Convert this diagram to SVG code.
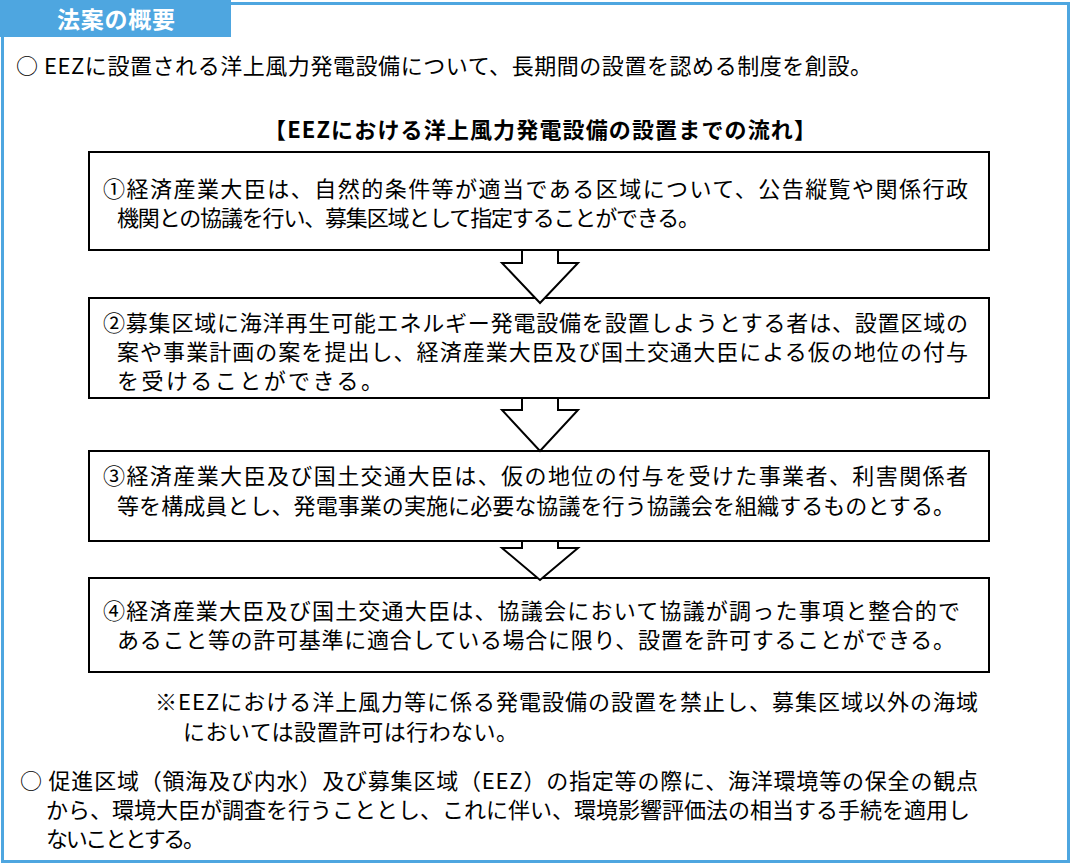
<svg xmlns="http://www.w3.org/2000/svg" width="1071" height="865" viewBox="0 0 1071 865">
<style>
text{font-family:"Noto Sans CJK JP","Noto Sans",sans-serif;font-size:22px;fill:#000}
.box{fill:#fff;stroke:#000;stroke-width:2}
.arr{fill:#fff;stroke:#000;stroke-width:2}
</style>
<rect width="1071" height="865" fill="#fff"/>
<rect x="2.5" y="3.5" width="1066" height="858" fill="none" stroke="#4ea6e0" stroke-width="3"/>
<g id="header"><rect x="0" y="0" width="231" height="37" fill="#4ea6e0"/><text x="57" y="28" textLength="118" lengthAdjust="spacing" style="fill:#fff;font-weight:bold;font-size:23px">法案の概要</text></g>
<text x="16" y="74" textLength="856" lengthAdjust="spacing">○ EEZに設置される洋上風力発電設備について、長期間の設置を認める制度を創設。</text>
<text x="264" y="138" textLength="552" lengthAdjust="spacing" style="font-weight:bold">【EEZにおける洋上風力発電設備の設置までの流れ】</text>
<g id="step1"><rect class="box" x="89" y="152" width="900" height="98"/>
<text x="103" y="197" textLength="865" lengthAdjust="spacing">①経済産業大臣は、自然的条件等が適当である区域について、公告縦覧や関係行政</text>
<text x="117" y="226" textLength="583" lengthAdjust="spacing">機関との協議を行い、募集区域として指定することができる。</text></g>
<g id="step2"><rect class="box" x="89" y="298" width="900" height="100"/>
<text x="103" y="331" textLength="865" lengthAdjust="spacing">②募集区域に海洋再生可能エネルギー発電設備を設置しようとする者は、設置区域の</text>
<text x="117" y="360" textLength="851" lengthAdjust="spacing">案や事業計画の案を提出し、経済産業大臣及び国土交通大臣による仮の地位の付与</text>
<text x="117" y="389" textLength="266" lengthAdjust="spacing">を受けることができる。</text></g>
<g id="step3"><rect class="box" x="89" y="451" width="900" height="90"/>
<text x="103" y="484" textLength="865" lengthAdjust="spacing">③経済産業大臣及び国土交通大臣は、仮の地位の付与を受けた事業者、利害関係者</text>
<text x="117" y="514" textLength="838" lengthAdjust="spacing">等を構成員とし、発電事業の実施に必要な協議を行う協議会を組織するものとする。</text></g>
<g id="step4"><rect class="box" x="89" y="578" width="900" height="94"/>
<text x="103" y="619" textLength="857" lengthAdjust="spacing">④経済産業大臣及び国土交通大臣は、協議会において協議が調った事項と整合的で</text>
<text x="117" y="648" textLength="838" lengthAdjust="spacing">あること等の許可基準に適合している場合に限り、設置を許可することができる。</text></g>
<g id="connectors">
<polygon class="arr" points="522,250 522,263 502,263 540,303 578,263 558,263 558,250"/>
<polygon class="arr" points="522,398 522,410 502,410 540,451 578,410 558,410 558,398"/>
<polygon class="arr" points="522,541 522,548 502,548 540,580 578,548 558,548 558,541"/>
</g>
<text x="155" y="710" textLength="823" lengthAdjust="spacing">※EEZにおける洋上風力等に係る発電設備の設置を禁止し、募集区域以外の海域</text>
<text x="183" y="740" textLength="335" lengthAdjust="spacing">においては設置許可は行わない。</text>
<text x="20" y="789" textLength="958" lengthAdjust="spacing">○ 促進区域（領海及び内水）及び募集区域（EEZ）の指定等の際に、海洋環境等の保全の観点</text>
<text x="46" y="818" textLength="924" lengthAdjust="spacing">から、環境大臣が調査を行うこととし、これに伴い、環境影響評価法の相当する手続を適用し</text>
<text x="46" y="847" textLength="159" lengthAdjust="spacing">ないこととする。</text>
</svg>
